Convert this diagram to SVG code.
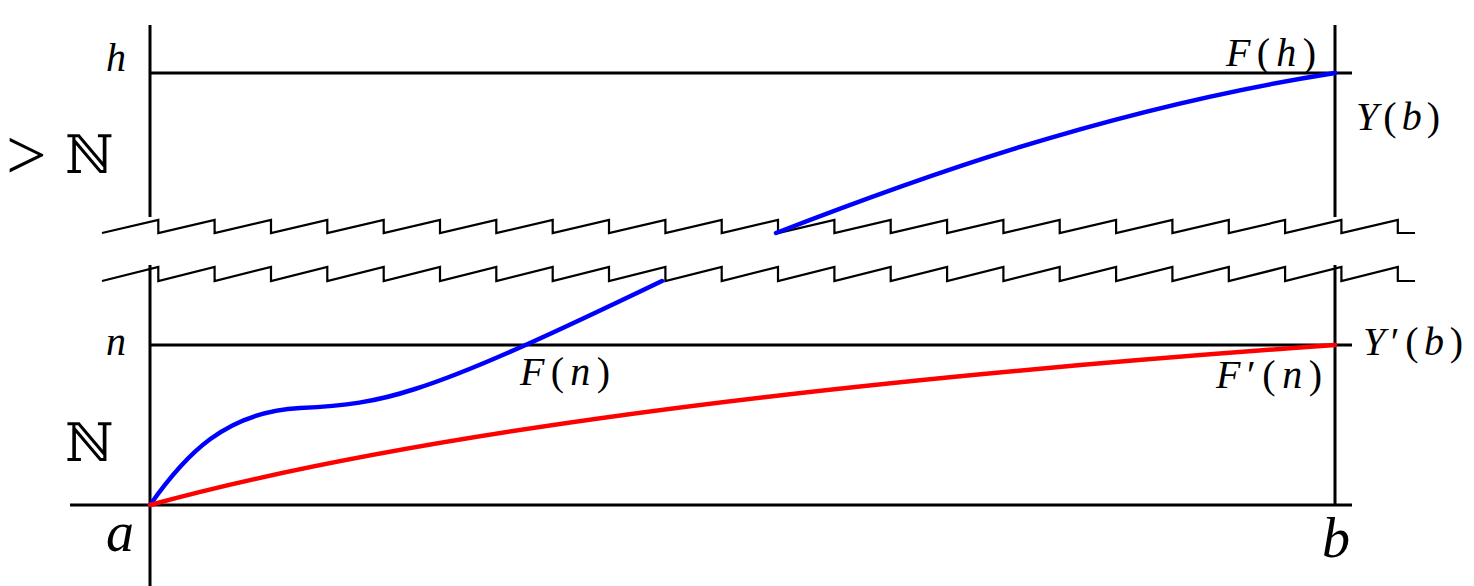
<svg xmlns="http://www.w3.org/2000/svg" width="1474" height="586" viewBox="0 0 1474 586">
<style>
.ax{stroke:#000;stroke-width:3;fill:none}
.zz{stroke:#000;stroke-width:2.2;fill:none;stroke-linejoin:miter}
.blue{stroke:#0000ff;stroke-width:4.5;fill:none;stroke-linecap:round}
.red{stroke:#ff0000;stroke-width:4.5;fill:none;stroke-linecap:round}
.m{font-family:"Liberation Serif",serif;font-size:40px;fill:#000}
.i{font-style:italic}
.bb{font-family:"DejaVu Serif","DejaVu Sans",serif;font-size:53px;fill:#000}
</style>
<rect width="1474" height="586" fill="#fff"/>
<g id="axes">
<path class="ax" d="M150,25V217M150,265V586M1335,25V217M1335,265V505"/>
<path class="ax" d="M150,73H1352M150,345H1352M70,505H1352"/>
</g>
<g id="breaks">
<path class="zz" d="M102,233L158.3,220V233L214.6,220V233L271,220V233L327.3,220V233L383.7,220V233L440,220V233L496.3,220V233L552.7,220V233L609,220V233L665.4,220V233L721.7,220V233L778,220V233L834.4,220V233L890.7,220V233L947.1,220V233L1003.4,220V233L1059.7,220V233L1116.1,220V233L1172.4,220V233L1228.8,220V233L1285.1,220V233L1341.4,220V233L1397.8,220V233H1415"/>
<path class="zz" d="M102,281L158.3,267V281L214.6,267V281L271,267V281L327.3,267V281L383.7,267V281L440,267V281L496.3,267V281L552.7,267V281L609,267V281L665.4,267V281L721.7,267V281L778,267V281L834.4,267V281L890.7,267V281L947.1,267V281L1003.4,267V281L1059.7,267V281L1116.1,267V281L1172.4,267V281L1228.8,267V281L1285.1,267V281L1341.4,267V281L1397.8,267V281H1415"/>
</g>
<g id="curves">
<path id="F" class="blue" d="M150,505C185,455 225,412 300,408C345,406 375,402 415,389C475,370 560,330 662,281"/>
<path id="Fh" class="blue" d="M776,233C900,185 1100,110 1335,73"/>
<path id="Fprime" class="red" d="M150,505C350,450 700,390 1335,345"/>
</g>
<g id="labels">
<text class="m i" x="106" y="71">h</text>
<text class="m i" x="106" y="355">n</text>
<text class="m" x="6" y="179" style="font-size:72px">&gt;</text>
<text class="bb" x="65" y="173">ℕ</text>
<text class="bb" x="65" y="461">ℕ</text>
<text class="m i" x="106" y="551" style="font-size:56px">a</text>
<text class="m i" x="1322" y="557" style="font-size:56px">b</text>
<text class="m" x="1226" y="66" textLength="90"><tspan class="i">F</tspan>(<tspan class="i">h</tspan>)</text>
<text class="m" x="1356" y="130" textLength="84"><tspan class="i">Y</tspan>(<tspan class="i">b</tspan>)</text>
<text class="m" x="1363" y="355" textLength="100"><tspan class="i">Y</tspan>′(<tspan class="i">b</tspan>)</text>
<text class="m" x="1216" y="388" textLength="106"><tspan class="i">F</tspan>′(<tspan class="i">n</tspan>)</text>
<text class="m" x="520" y="385" textLength="90"><tspan class="i">F</tspan>(<tspan class="i">n</tspan>)</text>
</g>
</svg>
